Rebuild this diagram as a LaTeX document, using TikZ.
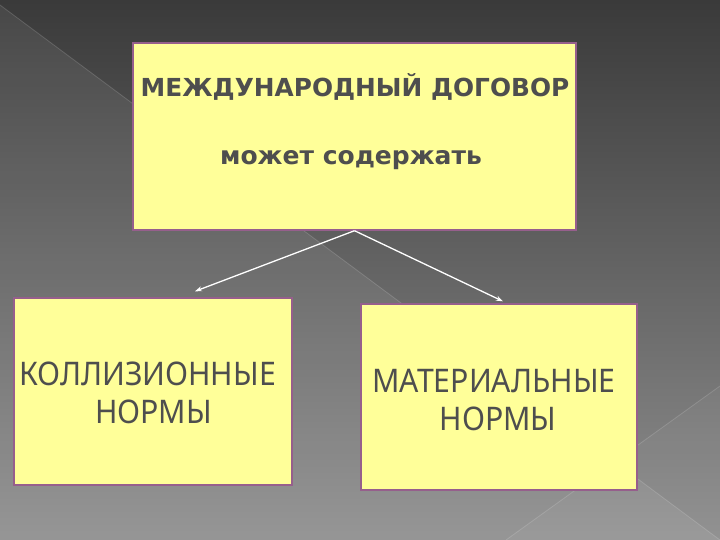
\documentclass[tikz,border=0pt]{standalone}
\usepackage{fontspec}
\newfontfamily\headfont{DejaVu Sans}
\newfontfamily\boxfont{Noto Sans}
\usetikzlibrary{arrows.meta,calc}
\definecolor{bgtop}{RGB}{58,58,58}
\definecolor{bgbot}{RGB}{142,142,142}
\definecolor{boxfill}{RGB}{255,255,153}
\definecolor{boxline}{RGB}{150,95,140}
\definecolor{txt}{RGB}{78,78,78}
\newcommand{\narrow}[1]{\scalebox{0.93}[1]{#1}}
\tikzset{
  panel/.style={draw=boxline, line width=1.4pt, fill=boxfill, rectangle, inner sep=0pt},
  headtxt/.style={font=\headfont\bfseries\fontsize{24.8}{28}\selectfont, text=txt, anchor=base, inner sep=0pt},
  subtxt/.style={font=\headfont\bfseries\fontsize{25}{28}\selectfont, text=txt, anchor=base, inner sep=0pt},
  bodytxt/.style={font=\boxfont\fontsize{32.5}{36}\selectfont, text=txt, anchor=base, inner sep=0pt},
  link/.style={draw=white, line width=1.3pt, -{Stealth[length=7pt,width=5pt]}},
  deco/.style={draw=white, opacity=0.15, line width=0.8pt}
}
\begin{document}
\begin{tikzpicture}[x=1pt,y=-1pt]
\useasboundingbox (0,0) rectangle (720,540);
\shade[top color=bgtop, bottom color=bgbot] (0,0) rectangle (720,540);
\fill[white, opacity=0.07] (0,5) -- (720,540) -- (0,540) -- cycle;
\fill[white, opacity=0.04] (506,540) -- (720,386) -- (720,540) -- cycle;
\draw[deco] (0,5) -- (720,540);
\draw[deco] (506,540) -- (720,386);

\node[panel, minimum width=443pt, minimum height=187pt] (top) at (354.5,136.5) {};
\node[panel, minimum width=278pt, minimum height=187pt] (left) at (153,391.5) {};
\node[panel, minimum width=276pt, minimum height=186pt] (right) at (499,397) {};

\node[headtxt] (h1) at (355,97) {МЕЖДУНАРОДНЫЙ ДОГОВОР};
\node[subtxt] (h2) at (351,165) {может содержать};
\node[bodytxt] (l1) at (147.5,385) {\narrow{КОЛЛИЗИОННЫЕ}};
\node[bodytxt] (l2) at (153.5,423) {\narrow{НОРМЫ}};
\node[bodytxt] (r1) at (494,392) {\narrow{МАТЕРИАЛЬНЫЕ}};
\node[bodytxt] (r2) at (498,430) {\narrow{НОРМЫ}};

\coordinate (lend) at ($(left.north)+(42,-6)$);
\coordinate (rend) at ($(right.north)+(4,-2)$);
\draw[link] (top.south) -- (lend);
\draw[link] (top.south) -- (rend);
\end{tikzpicture}
\end{document}
